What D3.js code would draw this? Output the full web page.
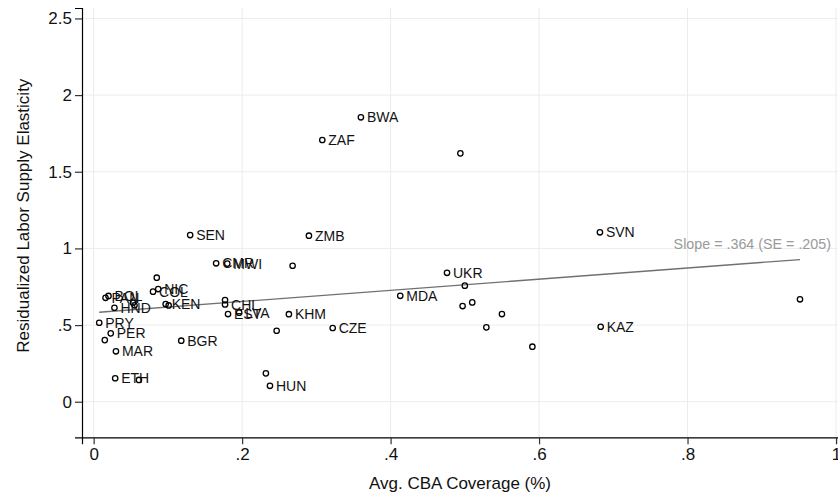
<!DOCTYPE html>
<html>
<head>
<meta charset="utf-8">
<script src="https://cdn.jsdelivr.net/npm/d3@7"></script>
<style>
  body { margin: 0; background: #fff; }
  text { font-family: "Liberation Sans", Arial, Helvetica, sans-serif; }
</style>
</head>
<body>
<div id="chart"></div>
<script>
// country codes ("" = unlabelled point)
const labels = ["BWA","ZAF","","SVN","SEN","ZMB","CMR","MWI","","UKR",
                "","","NIC","COL","MDA","BOL","PAN","","","",
                "CHL","KEN","","","","HND","","EST","LVA","KHM",
                "PRY","KAZ","","CZE","","PER","","BGR","","MAR",
                "","ETH","","HUN",""];
const coverage = [0.360,0.308,0.494,0.682,0.130,0.290,0.165,0.180,0.268,0.476,
                  0.085,0.500,0.087,0.080,0.413,0.020,0.016,0.510,0.053,0.177,
                  0.177,0.097,0.101,0.055,0.497,0.028,0.550,0.181,0.196,0.263,
                  0.0075,0.683,0.529,0.322,0.2465,0.023,0.015,0.118,0.591,0.030,
                  0.232,0.029,0.061,0.2375,0.9515];
const elasticity = [1.855,1.707,1.620,1.105,1.087,1.083,0.903,0.901,0.887,0.841,
                    0.809,0.757,0.735,0.718,0.691,0.690,0.678,0.648,0.646,0.663,
                    0.634,0.637,0.628,0.629,0.624,0.613,0.572,0.572,0.581,0.571,
                    0.515,0.489,0.485,0.481,0.463,0.446,0.402,0.398,0.359,0.329,
                    0.185,0.153,0.142,0.104,0.668];
const xTicks = [0, 0.2, 0.4, 0.6, 0.8, 1];
const yTicks = [0, 0.5, 1, 1.5, 2, 2.5];
const intercept = 0.581, slope = 0.364, slopeSE = 0.205;

const W = 838, H = 498;
const svg = d3.select("#chart").append("svg")
    .attr("width", W)
    .attr("height", H);

const x = d3.scaleLinear().domain([-0.0157, 1.0027]).range([82, 838]);
const y = d3.scaleLinear().domain([-0.232, 2.568]).range([437.3, 8]);

const fmt = d => d === 0 ? "0" : String(d).replace(/^0\./, ".");

// grid
svg.append("g").selectAll("line")
    .data(xTicks)
    .join("line")
    .attr("x1", d => x(d)).attr("x2", d => x(d))
    .attr("y1", y.range()[0]).attr("y2", y.range()[1])
    .attr("stroke", "#ececec").attr("stroke-width", 1);
svg.append("g").selectAll("line")
    .data(yTicks)
    .join("line")
    .attr("x1", x.range()[0]).attr("x2", x.range()[1])
    .attr("y1", d => y(d)).attr("y2", d => y(d))
    .attr("stroke", "#ececec").attr("stroke-width", 1);

// axes
const xAxis = svg.append("g")
    .attr("transform", `translate(0,${y.range()[0]})`)
    .call(d3.axisBottom(x).tickValues(xTicks).tickFormat(fmt).tickSizeOuter(0).tickSize(7).tickPadding(4));
const yAxis = svg.append("g")
    .attr("transform", `translate(${x.range()[0]},0)`)
    .call(d3.axisLeft(y).tickValues(yTicks).tickFormat(fmt).tickSizeOuter(0).tickSize(7).tickPadding(3));

[xAxis, yAxis].forEach(g => {
  g.select(".domain").attr("stroke", "#000").attr("stroke-width", 1.2);
  g.selectAll(".tick line").attr("stroke", "#333").attr("stroke-width", 1.2);
  g.selectAll(".tick text")
    .attr("font-size", 17)
    .attr("fill", "#111")
    .style("font-family", "'Liberation Sans', Arial, sans-serif");
});

// fitted line
const xmin = d3.min(coverage), xmax = d3.max(coverage);
svg.append("line")
    .attr("x1", x(xmin)).attr("y1", y(intercept + slope * xmin))
    .attr("x2", x(xmax)).attr("y2", y(intercept + slope * xmax))
    .attr("stroke", "#707070")
    .attr("stroke-width", 1.3);

svg.append("text")
    .attr("x", x(xmax) + 31)
    .attr("y", y(intercept + slope * xmax) - 16)
    .attr("text-anchor", "end")
    .attr("dominant-baseline", "central")
    .attr("font-size", 14.3)
    .attr("fill", "#9a9a9a")
    .text(`Slope = ${fmt(slope)} (SE = ${fmt(slopeSE)})`);

// points
const pts = labels.map((l, i) => ({ label: l, cx: coverage[i], cy: elasticity[i] }));

svg.append("g").selectAll("circle")
    .data(pts)
    .join("circle")
    .attr("cx", d => x(d.cx))
    .attr("cy", d => y(d.cy))
    .attr("r", 2.7)
    .attr("fill", "none")
    .attr("stroke", "#000")
    .attr("stroke-width", 1.3);

svg.append("g").selectAll("text")
    .data(pts.filter(d => d.label))
    .join("text")
    .attr("x", d => x(d.cx) + 6)
    .attr("y", d => y(d.cy))
    .attr("dominant-baseline", "central")
    .attr("font-size", 14)
    .attr("fill", "#111")
    .text(d => d.label);

// axis titles
svg.append("text")
    .attr("x", (x.range()[0] + x.range()[1]) / 2)
    .attr("y", 489)
    .attr("text-anchor", "middle")
    .attr("font-size", 17)
    .attr("fill", "#111")
    .text("Avg. CBA Coverage (%)");

svg.append("text")
    .attr("transform", `translate(29,${(y.range()[0] + y.range()[1]) / 2 - 7}) rotate(-90)`)
    .attr("text-anchor", "middle")
    .attr("font-size", 17)
    .attr("fill", "#111")
    .text("Residualized Labor Supply Elasticity");
</script>
</body>
</html>
